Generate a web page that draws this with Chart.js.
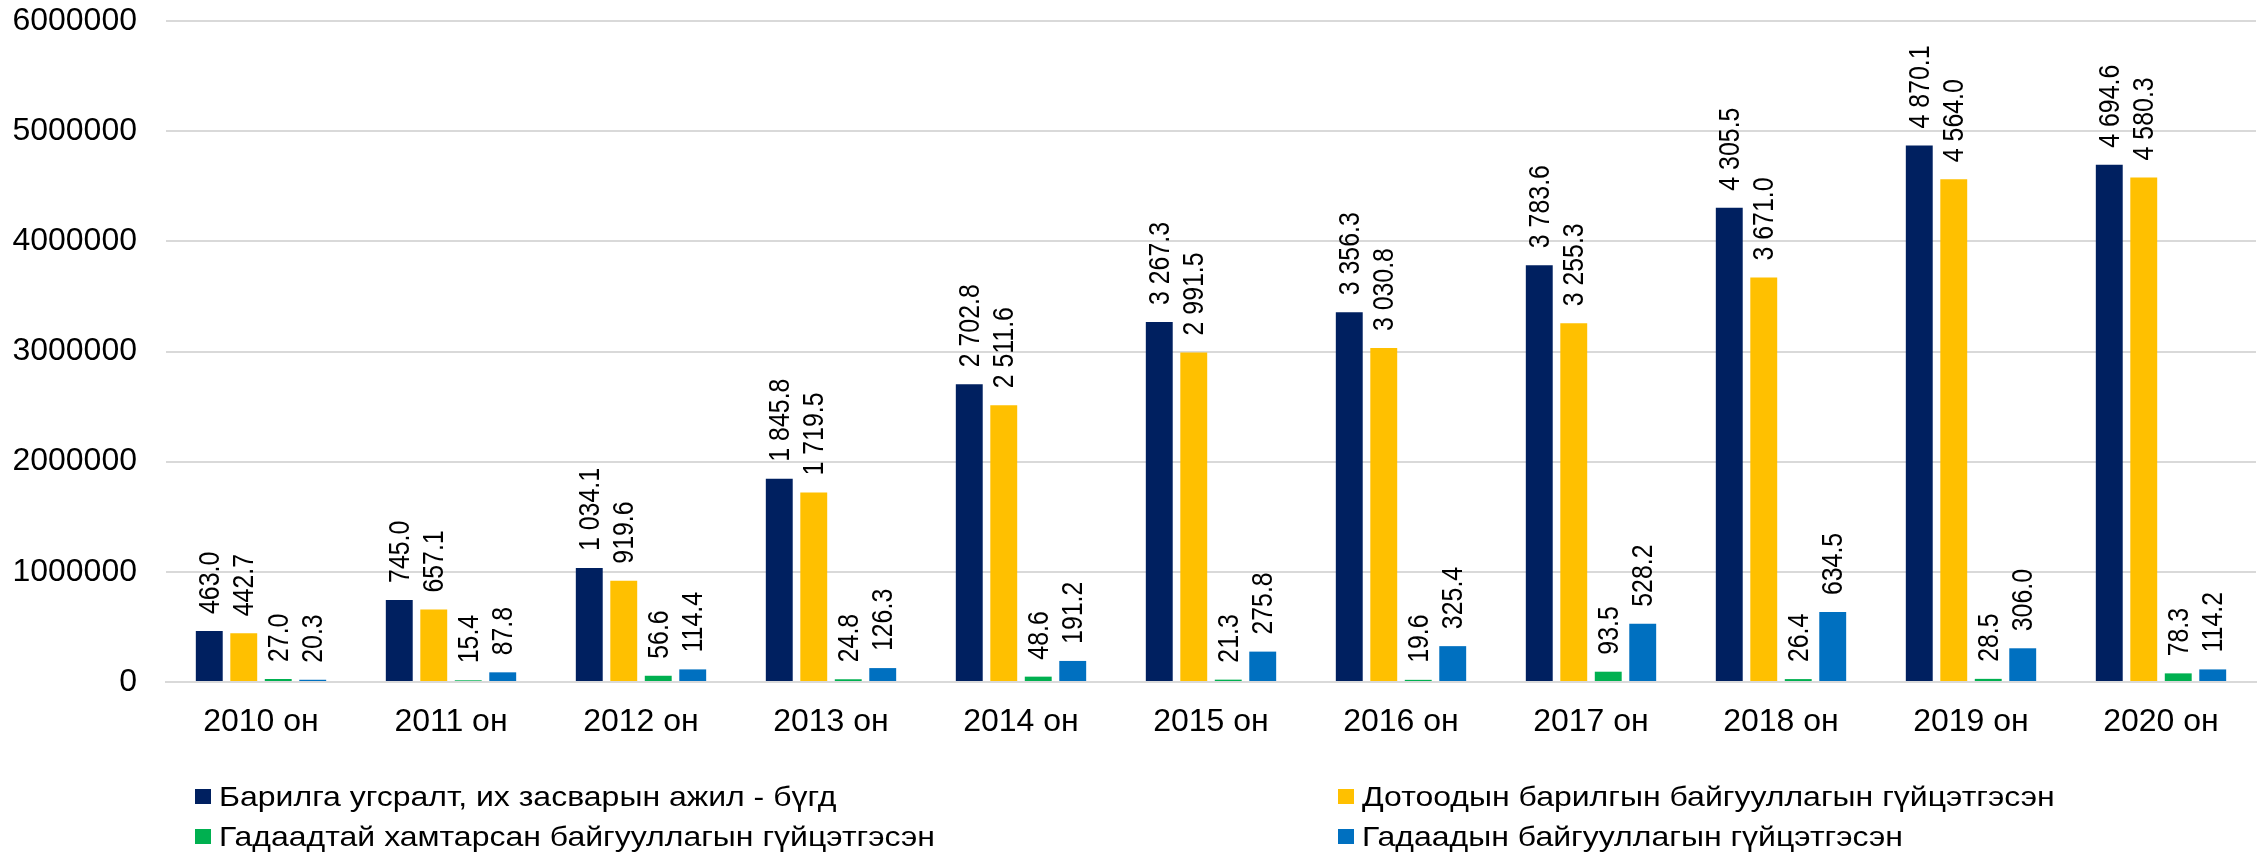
<!DOCTYPE html>
<html>
<head>
<meta charset="utf-8">
<script src="https://cdn.jsdelivr.net/npm/chart.js@4/dist/chart.umd.min.js"></script>
<style>
  body { margin: 0; background: #fff; }
  #wrap { position: relative; width: 2260px; height: 855px; }
  #legend { position: absolute; left: 0; top: 0; width: 2260px; font-family: "Liberation Sans", Arial, sans-serif; font-size: 32px; line-height: 36px; color: #000; }
  .item { position: absolute; display: flex; align-items: center; white-space: nowrap; }
  .box { width: 16px; height: 15px; margin-right: 8px; }
  .txt { display: inline-block; transform: scaleY(0.87); }
</style>
</head>
<body>
<div id="wrap">
  <canvas id="chartConstruction" width="2260" height="855"></canvas>
  <div id="legend"></div>
</div>
<script>
// values in billion, as printed on the labels
var years = ['2010 он', '2011 он', '2012 он', '2013 он', '2014 он', '2015 он', '2016 он', '2017 он', '2018 он', '2019 он', '2020 он'];

var totalWork = [463.0, 745.0, 1034.1, 1845.8, 2702.8, 3267.3, 3356.3, 3783.6, 4305.5, 4870.1, 4694.6];
var domesticWork = [442.7, 657.1, 919.6, 1719.5, 2511.6, 2991.5, 3030.8, 3255.3, 3671.0, 4564.0, 4580.3];
var jointWork = [27.0, 15.4, 56.6, 24.8, 48.6, 21.3, 19.6, 93.5, 26.4, 28.5, 78.3];
var foreignWork = [20.3, 87.8, 114.4, 126.3, 191.2, 275.8, 325.4, 528.2, 634.5, 306.0, 114.2];

var seriesNames = [
  'Барилга угсралт, их засварын ажил - бүгд',
  'Дотоодын барилгын байгууллагын гүйцэтгэсэн',
  'Гадаадтай хамтарсан байгууллагын гүйцэтгэсэн',
  'Гадаадын байгууллагын гүйцэтгэсэн'
];
var seriesColors = ['#002060', '#FFC000', '#00B050', '#0070C0'];
var yTicks = [0, 1000000, 2000000, 3000000, 4000000, 5000000, 6000000];

var UNIT = 1000; // axis is in million

formatLabel = function(v) {
  var parts = v.toFixed(1).split('.');
  parts[0] = parts[0].replace(/\B(?=(\d{3})+(?!\d))/g, ' ');
  return parts[0] + '.' + parts[1];
}

makeDataset = function(i, values) {
  return {
    label: seriesNames[i],
    data: values.map(function(v) { return v * UNIT; }),
    raw: values,
    backgroundColor: seriesColors[i],
    borderWidth: 0,
    categoryPercentage: 0.726,
    barPercentage: 0.78
  };
}

// rotated value labels above the bars
var barLabels = {
  id: 'barLabels',
  afterDatasetsDraw: function(chart) {
    var ctx = chart.ctx;
    ctx.save();
    ctx.fillStyle = '#000';
    ctx.font = '30px "Liberation Sans", Arial, sans-serif';
    ctx.textAlign = 'left';
    ctx.textBaseline = 'middle';
    chart.data.datasets.forEach(function(ds, i) {
      chart.getDatasetMeta(i).data.forEach(function(bar, j) {
        ctx.save();
        ctx.translate(bar.x + 1, bar.y - 17);
        ctx.rotate(-Math.PI / 2);
        ctx.scale(0.83, 1);
        ctx.fillText(formatLabel(ds.raw[j]), 0, 0);
        ctx.restore();
      });
    });
    ctx.restore();
  }
};

var config = {
  type: 'bar',
  data: {
    labels: years,
    datasets: [
      makeDataset(0, totalWork),
      makeDataset(1, domesticWork),
      makeDataset(2, jointWork),
      makeDataset(3, foreignWork)
    ]
  },
  options: {
    responsive: false,
    animation: false,
    layout: { padding: { left: 0, right: 4, top: 0, bottom: 113 } },
    plugins: {
      legend: { display: false },
      tooltip: { enabled: false }
    },
    scales: {
      x: {
        grid: { display: false },
        border: { color: '#d9d9d9', width: 2 },
        ticks: { color: '#000', padding: 13, font: { family: '"Liberation Sans", Arial, sans-serif', size: 32 } },
        afterFit: function(axis) { axis.height = 60; }
      },
      y: {
        min: 0,
        max: 6000000,
        afterBuildTicks: function(axis) {
          axis.ticks = yTicks.map(function(v) { return { value: v }; });
        },
        afterFit: function(axis) {
          axis.width = 166;
          axis.paddingTop = 21;
          axis.paddingBottom = 0;
        },
        grid: { color: '#d9d9d9', lineWidth: 2, drawTicks: false },
        border: { display: false },
        ticks: {
          color: '#000',
          padding: 29,
          font: { family: '"Liberation Sans", Arial, sans-serif', size: 32 },
          callback: function(v) { return String(v); }
        }
      }
    }
  },
  plugins: [barLabels]
};

var ctx = document.getElementById('chartConstruction').getContext('2d');
window.chartConstruction = new Chart(ctx, config);

// two-column legend under the chart
var legendPos = [[195, 778], [1338, 778], [195, 818], [1338, 818]];
var legendOrder = [0, 1, 2, 3];
legendOrder.forEach(function(i, k) {
  var item = document.createElement('div');
  item.className = 'item';
  item.style.left = legendPos[k][0] + 'px';
  item.style.top = legendPos[k][1] + 'px';
  item.innerHTML = '<span class="box" style="background:' + seriesColors[i] + '"></span><span class="txt">' + config.data.datasets[i].label + '</span>';
  document.getElementById('legend').appendChild(item);
});
</script>
</body>
</html>
